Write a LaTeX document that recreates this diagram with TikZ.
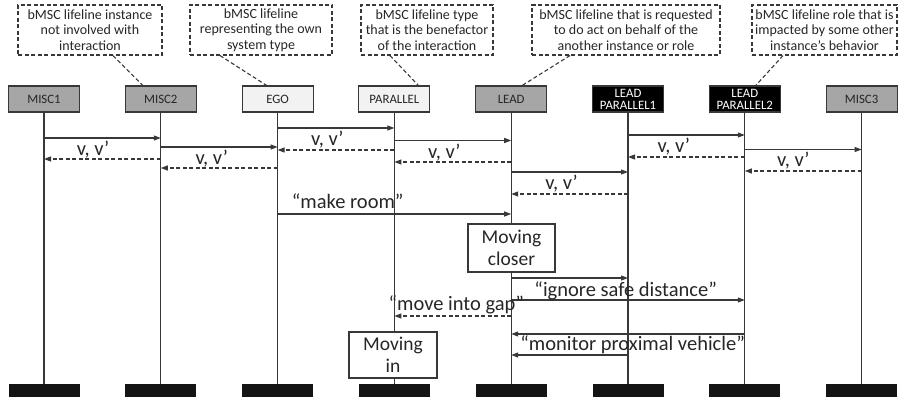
\documentclass[tikz,border=0pt]{standalone}
\usepackage{fontspec}
\setmainfont{Carlito}
\usetikzlibrary{arrows.meta}

\definecolor{inkc}{HTML}{383838}
\definecolor{midgray}{HTML}{A6A6A6}
\definecolor{palegray}{HTML}{F2F2F2}
\definecolor{barc}{HTML}{141414}

\begin{document}
\begin{tikzpicture}[x=1pt,y=-1pt,
  ink/.style={draw=inkc, line width=1.1pt},
  hdr/.style={ink, minimum width=71pt, minimum height=26pt, inner sep=0pt,
    align=center, font=\fontsize{12.8}{12}\selectfont, text=black!85},
  darkhdr/.style={hdr, fill=black, text=white},
  endbar/.style={fill=barc, minimum width=71pt, minimum height=13pt, inner sep=0pt},
  note/.style={draw=inkc, line width=1.1pt, dash pattern=on 4pt off 2.5pt,
    inner sep=0pt, minimum height=50pt, align=center,
    font=\fontsize{14}{15.5}\selectfont, text=black!85},
  leader/.style={draw=inkc, line width=1.1pt, dash pattern=on 4pt off 2.5pt},
  life/.style={draw=inkc, line width=1.1pt},
  msg/.style={ink, -{Triangle[length=7pt,width=5pt]}},
  reply/.style={msg, dash pattern=on 4pt off 2.5pt},
  lbl/.style={font=\fontsize{20.5}{22}\selectfont, text=black!85, inner sep=0pt, anchor=base},
  state/.style={ink, fill=white, inner sep=0pt, align=center,
    font=\fontsize{19.5}{22}\selectfont, text=black!85}
]
\useasboundingbox (0,0) rectangle (898,401);

% lifeline heads
\node[hdr, fill=midgray]  (h1) at (44,99)    {MISC1};
\node[hdr, fill=midgray]  (h2) at (160.8,99) {MISC2};
\node[hdr, fill=palegray] (h3) at (277.6,99) {EGO};
\node[hdr, fill=palegray] (h4) at (394.4,99) {PARALLEL};
\node[hdr, fill=midgray]  (h5) at (511.2,99) {LEAD};
\node[darkhdr]            (h6) at (628,99)   {LEAD\\PARALLEL1};
\node[darkhdr]            (h7) at (744.8,99) {LEAD\\PARALLEL2};
\node[hdr, fill=midgray]  (h8) at (861.6,99) {MISC3};

% lifeline ends
\foreach \i/\x in {1/44,2/160.8,3/277.6,4/394.4,5/511.2,6/628,7/744.8,8/861.6}
  \node[endbar] (b\i) at (\x,390.5) {};

% lifelines
\foreach \i in {1,...,8}
  \draw[life] (h\i.south) -- (b\i.north);

% explanatory notes
\node[note, minimum width=144pt] (c1) at (90,30)
  {bMSC lifeline instance\\not involved with\\interaction};
\node[note, minimum width=142pt] (c2) at (261,30)
  {bMSC lifeline\\representing the own\\system type};
\node[note, minimum width=132pt] (c3) at (427,30)
  {bMSC lifeline type\\that is the benefactor\\of the interaction};
\node[note, minimum width=188pt] (c4) at (626,30)
  {bMSC lifeline that is requested\\to do act on behalf of the\\another instance or role};
\node[note, minimum width=145pt] (c5) at (824.5,30)
  {bMSC lifeline role that is\\impacted by some other\\instance’s behavior};

\draw[leader] ([xshift=23pt]c1.south)   -- ([xshift=-18pt]h2.north);
\draw[leader] ([xshift=-41pt]c2.south)  -- ([xshift=-11pt]h3.north);
\draw[leader] ([xshift=-37pt]c3.south)  -- ([xshift=24pt]h4.north);
\draw[leader] ([xshift=-56pt]c4.south)  -- ([xshift=11pt]h5.north);
\draw[leader] ([xshift=-41.5pt]c5.south) -- ([xshift=11pt]h7.north);

% velocity exchange
\draw[msg] (h3 |- 0,128) -- (h4 |- 0,128);
\draw[msg] (h6 |- 0,135) -- (h7 |- 0,135);
\draw[msg] (h1 |- 0,138) -- (h2 |- 0,138);
\draw[msg] (h4 |- 0,140.5) -- (h5 |- 0,140.5);
\draw[msg] (h2 |- 0,147) -- (h3 |- 0,147);
\draw[msg] (h7 |- 0,149.5) -- (h8 |- 0,149.5);
\draw[reply] (h4 |- 0,150) -- node[lbl, pos=0.574, yshift=4pt] {v, v’} (h3 |- 0,150);
\draw[reply] (h7 |- 0,157) -- node[lbl, pos=0.607, yshift=4pt] {v, v’} (h6 |- 0,157);
\draw[reply] (h2 |- 0,159) -- node[lbl, pos=0.58, yshift=3pt] {v, v’} (h1 |- 0,159);
\draw[reply] (h5 |- 0,162) -- node[lbl, pos=0.573, yshift=3pt] {v, v’} (h4 |- 0,162);
\draw[reply] (h3 |- 0,168) -- node[lbl, pos=0.564, yshift=3pt] {v, v’} (h2 |- 0,168);
\draw[reply] (h8 |- 0,171) -- node[lbl, pos=0.585, yshift=4pt] {v, v’} (h7 |- 0,171);
\draw[msg] (h5 |- 0,172) -- (h6 |- 0,172);
\draw[reply] (h6 |- 0,194) -- node[lbl, pos=0.569, yshift=4pt] {v, v’} (h5 |- 0,194);

% gap negotiation
\draw[msg] (h3 |- 0,214) -- node[lbl, pos=0.30, yshift=5.5pt] {“make room”} (h5 |- 0,214);
\node[state, minimum width=87pt, minimum height=48pt] (closer) at (511.5,248) {Moving\\closer};
\draw[msg] (h5 |- 0,278) -- (h6 |- 0,278);
\draw[msg] (h5 |- 0,300) -- node[lbl, pos=0.49, yshift=3pt] {“ignore safe distance”} (h7 |- 0,300);
\draw[reply] (h5 |- 0,316) -- node[lbl, pos=0.47, yshift=6pt] {“move into gap”} (h4 |- 0,316);
\draw[msg] (h7 |- 0,334) -- node[lbl, pos=0.48, yshift=-16pt] {“monitor proximal vehicle”} (h5 |- 0,334);
\draw[msg] (h6 |- 0,355) -- (h5 |- 0,355);
\node[state, minimum width=88pt, minimum height=46pt] (movein) at (393,355) {Moving\\in};
\end{tikzpicture}
\end{document}
